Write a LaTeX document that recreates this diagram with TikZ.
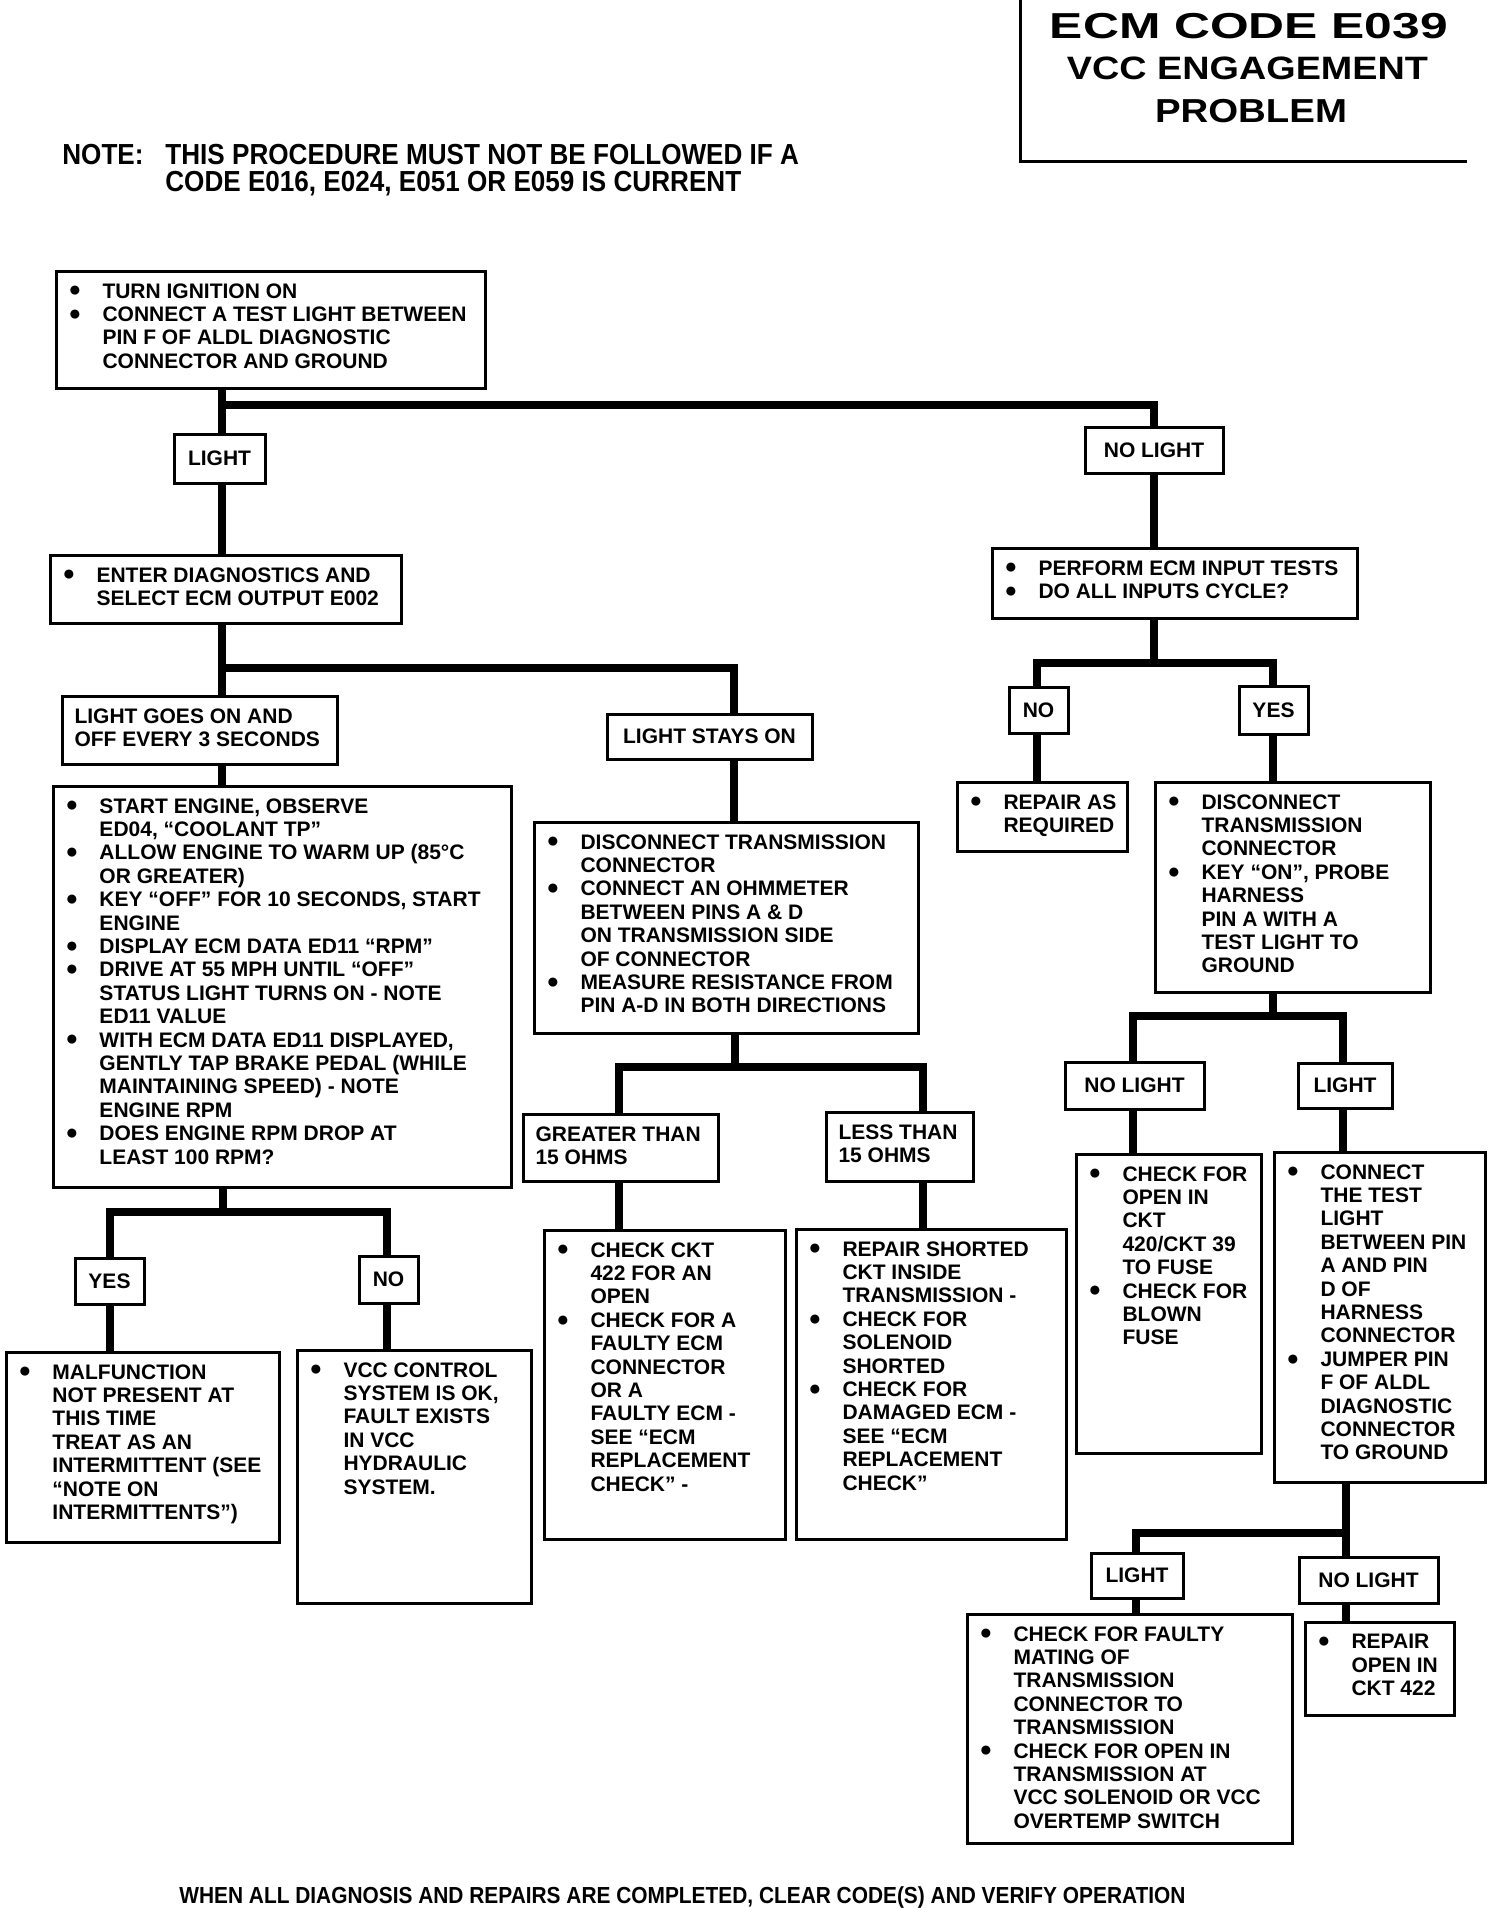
\documentclass[tikz,border=0pt]{standalone}
\usepackage{fontspec}
\setmainfont{Liberation Sans}
\newfontfamily\narrowfont{Liberation Sans}[FakeStretch=0.9]

% bullet line and its continuation
\newcommand{\bitem}{\makebox[17pt][l]{\raisebox{0.6pt}{\fontsize{10.5}{10.5}\selectfont ●}}}
\newcommand{\bcont}{\hspace*{17pt}}

\begin{document}
\begin{tikzpicture}[
    x=0.5pt, y=-0.5pt,
    panel/.style 2 args={draw, line width=1.5pt, anchor=north west, inner sep=0pt,
      execute at begin node={\begin{minipage}[t][#2][t]{#1}\fontsize{10.5}{11.7}\selectfont\bfseries\leftskip=6pt\vspace*{6pt}},
      execute at end node={\end{minipage}}},
    tag/.style 2 args={draw, line width=1.5pt, inner sep=0pt, minimum width=#1, minimum height=#2,
      font=\fontsize{10.5}{11.7}\selectfont\bfseries},
    wire/.style={line width=4.2pt},
    heading/.style={anchor=base, inner sep=0pt, font=\bfseries}
  ]
  \useasboundingbox (0,0) rectangle (1504,1908);

  % heading
  \draw[line width=1.5pt] (1020,0) -- (1020,161) -- (1467,161);
  \node[heading] (title) at (1249,38) {\resizebox{199pt}{12.6pt}{ECM CODE E039}};
  \node[heading] (subtitle) at (1247.5,79) {\resizebox{180.5pt}{11.3pt}{VCC ENGAGEMENT}};
  \node[heading] (subtitle2) at (1251,122) {\resizebox{96pt}{11.6pt}{PROBLEM}};
  \node[anchor=north west, inner sep=0pt, align=left, font=\narrowfont\bfseries\fontsize{14.5}{13.5}\selectfont] (note) at (62,144)
    {\makebox[51.5pt][l]{NOTE:}THIS PROCEDURE MUST NOT BE FOLLOWED IF A\\
     \hspace*{51.5pt}CODE E016, E024, E051 OR E059 IS CURRENT};

  % boxes
  \node[panel={214.5pt}{58.5pt}] (a) at (55,270) {%
    \bitem TURN IGNITION ON\\
    \bitem CONNECT A TEST LIGHT BETWEEN\\
    \bcont PIN F OF ALDL DIAGNOSTIC\\
    \bcont CONNECTOR AND GROUND};
  \node[panel={175.5pt}{34pt}] (b) at (49,554) {%
    \bitem ENTER DIAGNOSTICS AND\\
    \bcont SELECT ECM OUTPUT E002};
  \node[panel={137.5pt}{34pt}] (c) at (61,695) {LIGHT GOES ON AND\\ OFF EVERY 3 SECONDS};
  \node[tag={102.5pt}{22.5pt}] (d) at (709.5,736.5) {LIGHT STAYS ON};
  \node[panel={229pt}{200.5pt}] (e) at (52,785) {%
    \bitem START ENGINE, OBSERVE\\
    \bcont ED04, ``COOLANT TP''\\
    \bitem ALLOW ENGINE TO WARM UP (85°C\\
    \bcont OR GREATER)\\
    \bitem KEY ``OFF'' FOR 10 SECONDS, START\\
    \bcont ENGINE\\
    \bitem DISPLAY ECM DATA ED11 ``RPM''\\
    \bitem DRIVE AT 55 MPH UNTIL ``OFF''\\
    \bcont STATUS LIGHT TURNS ON - NOTE\\
    \bcont ED11 VALUE\\
    \bitem WITH ECM DATA ED11 DISPLAYED,\\
    \bcont GENTLY TAP BRAKE PEDAL (WHILE\\
    \bcont MAINTAINING SPEED) - NOTE\\
    \bcont ENGINE RPM\\
    \bitem DOES ENGINE RPM DROP AT\\
    \bcont LEAST 100 RPM?};
  \node[panel={192pt}{105.5pt}] (f) at (533,821) {%
    \bitem DISCONNECT TRANSMISSION\\
    \bcont CONNECTOR\\
    \bitem CONNECT AN OHMMETER\\
    \bcont BETWEEN PINS A \& D\\
    \bcont ON TRANSMISSION SIDE\\
    \bcont OF CONNECTOR\\
    \bitem MEASURE RESISTANCE FROM\\
    \bcont PIN A-D IN BOTH DIRECTIONS};
  \node[panel={97.5pt}{33.5pt}] (g) at (522,1113) {GREATER THAN\\ 15 OHMS};
  \node[panel={73.5pt}{34.5pt}] (h) at (825,1111) {LESS THAN\\ 15 OHMS};
  \node[panel={120.5pt}{154.5pt}] (i) at (543,1229) {%
    \bitem CHECK CKT\\
    \bcont 422 FOR AN\\
    \bcont OPEN\\
    \bitem CHECK FOR A\\
    \bcont FAULTY ECM\\
    \bcont CONNECTOR\\
    \bcont OR A\\
    \bcont FAULTY ECM -\\
    \bcont SEE ``ECM\\
    \bcont REPLACEMENT\\
    \bcont CHECK'' -};
  \node[panel={135pt}{155pt}] (j) at (795,1228) {%
    \bitem REPAIR SHORTED\\
    \bcont CKT INSIDE\\
    \bcont TRANSMISSION -\\
    \bitem CHECK FOR\\
    \bcont SOLENOID\\
    \bcont SHORTED\\
    \bitem CHECK FOR\\
    \bcont DAMAGED ECM -\\
    \bcont SEE ``ECM\\
    \bcont REPLACEMENT\\
    \bcont CHECK''};
  \node[panel={136.5pt}{95pt}] (k) at (5,1351) {%
    \bitem MALFUNCTION\\
    \bcont NOT PRESENT AT\\
    \bcont THIS TIME\\
    \bcont TREAT AS AN\\
    \bcont INTERMITTENT (SEE\\
    \bcont ``NOTE ON\\
    \bcont INTERMITTENTS'')};
  \node[panel={117pt}{126.5pt}] (l) at (296,1349) {%
    \bitem VCC CONTROL\\
    \bcont SYSTEM IS OK,\\
    \bcont FAULT EXISTS\\
    \bcont IN VCC\\
    \bcont HYDRAULIC\\
    \bcont SYSTEM.};
  \node[panel={182.5pt}{35pt}] (m) at (991,547) {%
    \bitem PERFORM ECM INPUT TESTS\\
    \bitem DO ALL INPUTS CYCLE?};
  \node[panel={85pt}{34.5pt}] (n) at (956,781) {%
    \bitem REPAIR AS\\
    \bcont REQUIRED};
  \node[panel={137.5pt}{105pt}] (o) at (1154,781) {%
    \bitem DISCONNECT\\
    \bcont TRANSMISSION\\
    \bcont CONNECTOR\\
    \bitem KEY ``ON'', PROBE\\
    \bcont HARNESS\\
    \bcont PIN A WITH A\\
    \bcont TEST LIGHT TO\\
    \bcont GROUND};
  \node[panel={92.5pt}{149.5pt}] (p) at (1075,1153) {%
    \bitem CHECK FOR\\
    \bcont OPEN IN\\
    \bcont CKT\\
    \bcont 420/CKT 39\\
    \bcont TO FUSE\\
    \bitem CHECK FOR\\
    \bcont BLOWN\\
    \bcont FUSE};
  \node[panel={105.5pt}{165pt}] (q) at (1273,1151) {%
    \bitem CONNECT\\
    \bcont THE TEST\\
    \bcont LIGHT\\
    \bcont BETWEEN PIN\\
    \bcont A AND PIN\\
    \bcont D OF\\
    \bcont HARNESS\\
    \bcont CONNECTOR\\
    \bitem JUMPER PIN\\
    \bcont F OF ALDL\\
    \bcont DIAGNOSTIC\\
    \bcont CONNECTOR\\
    \bcont TO GROUND};
  \node[panel={162.5pt}{114.5pt}] (r) at (966,1613) {%
    \bitem CHECK FOR FAULTY\\
    \bcont MATING OF\\
    \bcont TRANSMISSION\\
    \bcont CONNECTOR TO\\
    \bcont TRANSMISSION\\
    \bitem CHECK FOR OPEN IN\\
    \bcont TRANSMISSION AT\\
    \bcont VCC SOLENOID OR VCC\\
    \bcont OVERTEMP SWITCH};
  \node[panel={74.5pt}{46.5pt}] (s) at (1304,1621) {%
    \bitem REPAIR\\
    \bcont OPEN IN\\
    \bcont CKT 422};

  % answer tags
  \node[tag={45.5pt}{24.5pt}] (light1) at (219.5,458.5) {LIGHT};
  \node[tag={69pt}{23pt}] (nolight1) at (1154,450) {NO LIGHT};
  \node[tag={34.5pt}{23pt}] (yes1) at (109.5,1281) {YES};
  \node[tag={29.5pt}{23.5pt}] (no1) at (388.5,1279.5) {NO};
  \node[tag={29.5pt}{23pt}] (no2) at (1038.5,710) {NO};
  \node[tag={34.5pt}{24pt}] (yes2) at (1273.5,710) {YES};
  \node[tag={69.5pt}{23.5pt}] (nolight2) at (1134.5,1085.5) {NO LIGHT};
  \node[tag={47pt}{22.5pt}] (light2) at (1345,1085.5) {LIGHT};
  \node[tag={46pt}{22.5pt}] (light3) at (1137,1575.5) {LIGHT};
  \node[tag={69.5pt}{23pt}] (nolight3) at (1368.5,1580) {NO LIGHT};

  \node[anchor=base west, inner sep=0pt, font=\narrowfont\bfseries\fontsize{11.6}{13}\selectfont] (footer) at (179,1903)
    {WHEN ALL DIAGNOSIS AND REPAIRS ARE COMPLETED, CLEAR CODE(S) AND VERIFY OPERATION};

  % junctions
  \coordinate (k1l) at (222,405);  \coordinate (k1r) at (1154,405);
  \coordinate (k2l) at (222,668);  \coordinate (k2r) at (734,668);
  \coordinate (k3) at (223,1212);  \coordinate (k3l) at (110,1212);  \coordinate (k3r) at (387,1212);
  \coordinate (k4) at (735,1067);  \coordinate (k4l) at (619,1067);  \coordinate (k4r) at (923,1067);
  \coordinate (k5) at (1154,663);  \coordinate (k5l) at (1037,663);  \coordinate (k5r) at (1273,663);
  \coordinate (k6) at (1273,1016); \coordinate (k6l) at (1133,1016); \coordinate (k6r) at (1343,1016);
  \coordinate (k7) at (1346,1533); \coordinate (k7l) at (1136,1533);

  \draw[wire] (a.south -| k1l) -- (light1.north -| k1l);
  \draw[wire] (k1l) -- (k1r) -- (nolight1.north -| k1r);
  \draw[wire] (light1.south -| k1l) -- (b.north -| k1l);
  \draw[wire] (nolight1.south -| k1r) -- (m.north -| k1r);

  \draw[wire] (b.south -| k2l) -- (c.north -| k2l);
  \draw[wire] (k2l) -- (k2r) -- (d.north -| k2r);
  \draw[wire] (c.south -| k2l) -- (e.north -| k2l);
  \draw[wire] (d.south -| k2r) -- (f.north -| k2r);

  \draw[wire] (e.south -| k3) -- (k3);
  \draw[wire] (yes1.north -| k3l) -- (k3l) -- (k3r) -- (no1.north -| k3r);
  \draw[wire] (yes1.south -| k3l) -- (k.north -| k3l);
  \draw[wire] (no1.south -| k3r) -- (l.north -| k3r);

  \draw[wire] (f.south -| k4) -- (k4);
  \draw[wire] (g.north -| k4l) -- (k4l) -- (k4r) -- (h.north -| k4r);
  \draw[wire] (g.south -| k4l) -- (i.north -| k4l);
  \draw[wire] (h.south -| k4r) -- (j.north -| k4r);

  \draw[wire] (m.south -| k5) -- (k5);
  \draw[wire] (no2.north -| k5l) -- (k5l) -- (k5r) -- (yes2.north -| k5r);
  \draw[wire] (no2.south -| k5l) -- (n.north -| k5l);
  \draw[wire] (yes2.south -| k5r) -- (o.north -| k5r);

  \draw[wire] (o.south -| k6) -- (k6);
  \draw[wire] (nolight2.north -| k6l) -- (k6l) -- (k6r) -- (light2.north -| k6r);
  \draw[wire] (nolight2.south -| k6l) -- (p.north -| k6l);
  \draw[wire] (light2.south -| k6r) -- (q.north -| k6r);

  \draw[wire] (q.south -| k7) -- (nolight3.north -| k7);
  \draw[wire] (k7) -- (k7l) -- (light3.north -| k7l);
  \draw[wire] (light3.south -| k7l) -- (r.north -| k7l);
  \draw[wire] (nolight3.south -| k7) -- (s.north -| k7);
\end{tikzpicture}
\end{document}
